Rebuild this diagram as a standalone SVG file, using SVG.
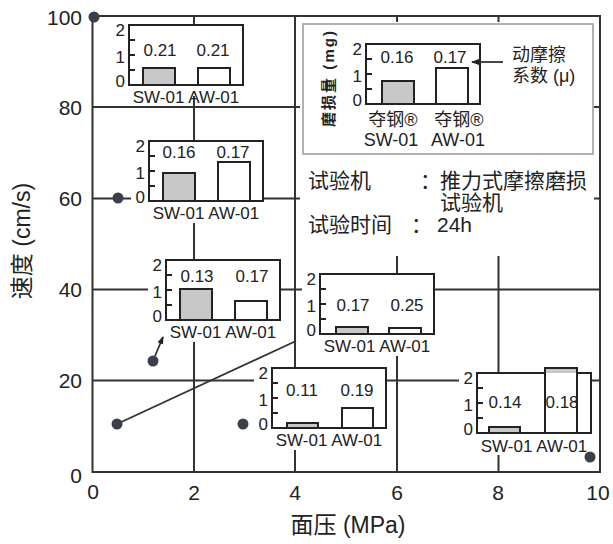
<svg xmlns="http://www.w3.org/2000/svg" width="613" height="544" viewBox="0 0 613 544">
<defs>
<style>
text{font-family:"Liberation Sans",Arial,"Noto Sans CJK SC",sans-serif;fill:#222}
.grid{stroke:#333;stroke-width:2;fill:none}
.bg{fill:#fff}
.box{fill:none;stroke:#222;stroke-width:2}
.tk{stroke:#222;stroke-width:2;fill:none}
.sw{fill:#c8c8c8;stroke:#222;stroke-width:2}
.aw{fill:#fff;stroke:#222;stroke-width:2}
.tl{font-size:17px;text-anchor:end}
.val{font-size:17px;text-anchor:middle}
.lb{font-size:17px;text-anchor:middle}
.ax{font-size:21px}
.axr{font-size:21px;text-anchor:end}
.axm{font-size:21px;text-anchor:middle}
.title{font-size:23px;text-anchor:middle}
.leg{font-size:21px}
.dot{fill:#3a3f4a}
.conn{stroke:#333;stroke-width:1.8;fill:none}
</style>
<marker id="ah" markerWidth="8" markerHeight="8" refX="7" refY="4" orient="auto" markerUnits="userSpaceOnUse">
<path d="M0,1 L8,4 L0,7z" fill="#222"/>
</marker>
</defs>
<rect width="613" height="544" fill="#fff"/>

<g id="axes">
<rect class="grid" x="92.5" y="16" width="507.5" height="456"/>
<path class="grid" d="M194 16V472M295 16V472M397 16V472M498.5 16V472M92.5 107H600M92.5 198.5H600M92.5 289.5H600M92.5 380.5H600"/>
<text class="axr" x="82" y="24.5">100</text>
<text class="axr" x="82" y="114.5">80</text>
<text class="axr" x="82" y="206">60</text>
<text class="axr" x="82" y="297">40</text>
<text class="axr" x="82" y="388">20</text>
<text class="axr" x="82" y="483">0</text>
<text class="axm" x="93" y="499">0</text>
<text class="axm" x="194" y="500">2</text>
<text class="axm" x="295" y="500">4</text>
<text class="axm" x="397" y="500">6</text>
<text class="axm" x="498" y="500">8</text>
<text class="axm" x="598" y="500">10</text>
<text class="title" x="348" y="533">面压 (MPa)</text>
<text class="title" transform="translate(30,241) rotate(-90)">速度 (cm/s)</text>
</g>

<g id="legend">
<rect class="bg" x="300" y="22" width="294" height="234"/>
<rect x="303" y="24" width="290" height="130" fill="none" stroke="#999" stroke-width="1.5"/>
<g transform="translate(366,44)">
<rect class="box" x="0" y="0" width="114" height="60"/>
<path class="tk" d="M0 15h6M0 30h6M0 45h6"/>
<text class="tl" x="-4" y="11">2</text>
<text class="tl" x="-4" y="38">1</text>
<text class="tl" x="-4" y="62">0</text>
<rect class="sw" x="16" y="37" width="32" height="23"/>
<rect class="aw" x="70" y="24" width="32" height="36"/>
<text class="val" x="31" y="19">0.16</text>
<text class="val" x="84" y="19">0.17</text>
</g>
<text transform="translate(334,79) rotate(-90)" font-size="15" font-weight="bold" text-anchor="middle" textLength="96" lengthAdjust="spacing">磨损量 (mg)</text>
<text x="393" y="126" font-size="18" text-anchor="middle">夺钢®</text>
<text x="459" y="126" font-size="18" text-anchor="middle">夺钢®</text>
<text x="391" y="146" font-size="18" text-anchor="middle">SW-01</text>
<text x="458" y="146" font-size="18" text-anchor="middle">AW-01</text>
<text x="512" y="61" font-size="18">动摩擦</text>
<text x="512" y="82" font-size="18">系数 (μ)</text>
<text class="leg" x="308" y="188">试验机</text>
<text class="leg" x="420" y="188">：</text>
<text class="leg" x="440" y="188">推力式摩擦磨损</text>
<text class="leg" x="440" y="210">试验机</text>
<text class="leg" x="308" y="232">试验时间</text>
<text class="leg" x="411" y="232">：</text>
<text class="leg" x="437" y="232">24h</text>
</g>

<g id="chart-1" transform="translate(129,25)">
<rect class="bg" x="-18" y="0" width="132" height="71"/>
<rect class="box" x="0" y="0" width="114" height="60"/>
<path class="tk" d="M0 15h6M0 30h6M0 45h6"/>
<text class="tl" x="-4" y="11">2</text>
<text class="tl" x="-4" y="38">1</text>
<text class="tl" x="-4" y="62">0</text>
<rect class="sw" x="14" y="43" width="32" height="17"/>
<rect class="aw" x="69" y="43" width="32" height="17"/>
<text class="val" x="31" y="31">0.21</text>
<text class="val" x="84" y="31">0.21</text>
<text class="lb" x="57" y="78">SW-01 AW-01</text>
</g>

<g id="chart-2" transform="translate(149,141)">
<rect class="bg" x="-18" y="0" width="132" height="82"/>
<rect class="box" x="0" y="0" width="114" height="60"/>
<path class="tk" d="M0 15h6M0 30h6M0 45h6"/>
<text class="tl" x="-4" y="11">2</text>
<text class="tl" x="-4" y="38">1</text>
<text class="tl" x="-4" y="62">0</text>
<rect class="sw" x="14" y="32" width="32" height="28"/>
<rect class="aw" x="69" y="21" width="32" height="39"/>
<text class="val" x="30" y="17">0.16</text>
<text class="val" x="84" y="17">0.17</text>
<text class="lb" x="57" y="78">SW-01 AW-01</text>
</g>

<g id="chart-3" transform="translate(166,260)">
<rect class="bg" x="-18" y="0" width="132" height="82"/>
<rect class="box" x="0" y="0" width="114" height="60"/>
<path class="tk" d="M0 15h6M0 30h6M0 45h6"/>
<text class="tl" x="-4" y="11">2</text>
<text class="tl" x="-4" y="38">1</text>
<text class="tl" x="-4" y="62">0</text>
<rect class="sw" x="14" y="29" width="32" height="31"/>
<rect class="aw" x="69" y="41" width="32" height="19"/>
<text class="val" x="31" y="22">0.13</text>
<text class="val" x="86" y="22">0.17</text>
<text class="lb" x="57" y="78">SW-01 AW-01</text>
</g>

<g id="chart-4" transform="translate(320,274)">
<rect class="bg" x="-18" y="0" width="132" height="82"/>
<rect class="box" x="0" y="0" width="114" height="60"/>
<path class="tk" d="M0 15h6M0 30h6M0 45h6"/>
<text class="tl" x="-4" y="11">2</text>
<text class="tl" x="-4" y="38">1</text>
<text class="tl" x="-4" y="62">0</text>
<rect class="sw" x="16" y="53" width="32" height="7"/>
<rect class="aw" x="69" y="54" width="32" height="6"/>
<text class="val" x="33" y="37">0.17</text>
<text class="val" x="87" y="37">0.25</text>
<text class="lb" x="57" y="78">SW-01 AW-01</text>
</g>

<g id="chart-5" transform="translate(272,368)">
<rect class="bg" x="-18" y="0" width="132" height="82"/>
<rect class="box" x="0" y="0" width="114" height="60"/>
<path class="tk" d="M0 15h6M0 30h6M0 45h6"/>
<text class="tl" x="-4" y="11">2</text>
<text class="tl" x="-4" y="38">1</text>
<text class="tl" x="-4" y="62">0</text>
<rect class="sw" x="15" y="55" width="31" height="5"/>
<rect class="aw" x="70" y="40" width="31" height="20"/>
<text class="val" x="30" y="28">0.11</text>
<text class="val" x="85" y="28">0.19</text>
<text class="lb" x="57" y="78">SW-01 AW-01</text>
</g>

<g id="chart-6" transform="translate(477,373)">
<rect class="bg" x="-18" y="0" width="132" height="82"/>
<rect class="box" x="0" y="0" width="114" height="60"/>
<path class="tk" d="M0 15h6M0 30h6M0 45h6"/>
<text class="tl" x="-4" y="11">2</text>
<text class="tl" x="-4" y="38">1</text>
<text class="tl" x="-4" y="62">0</text>
<rect class="sw" x="12" y="54" width="31" height="6"/>
<rect class="aw" x="68" y="-5" width="32" height="65"/>
<rect x="69" y="-4" width="30" height="4" fill="#c8c8c8"/>
<text class="val" x="28" y="35">0.14</text>
<text class="val" x="85" y="35">0.18</text>
<text class="lb" x="57" y="79">SW-01 AW-01</text>
</g>

<g id="connectors">
<line class="conn" x1="117" y1="424" x2="296" y2="341"/>
<line class="conn" x1="155" y1="356" x2="163" y2="337" marker-end="url(#ah)"/>
<line class="conn" x1="503" y1="62" x2="472" y2="62" marker-end="url(#ah)"/>
</g>

<g id="point-1"><circle class="dot" cx="94" cy="17" r="5.5"/></g>
<g id="point-2"><circle class="dot" cx="118" cy="198" r="5.5"/></g>
<g id="point-3"><circle class="dot" cx="153" cy="361" r="5.5"/></g>
<g id="point-4"><circle class="dot" cx="117" cy="424" r="5.5"/></g>
<g id="point-5"><circle class="dot" cx="243" cy="424" r="5.5"/></g>
<g id="point-6"><circle class="dot" cx="590" cy="457" r="5.5"/></g>
</svg>
